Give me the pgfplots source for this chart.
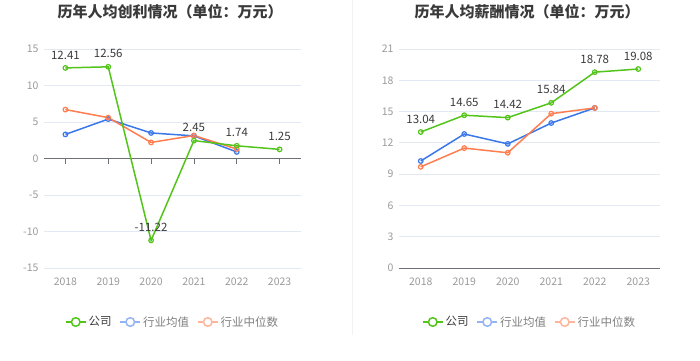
\documentclass[border=0pt]{standalone}
\usepackage{fontspec}
\setmainfont{Noto Sans CJK SC}
\usepackage{pgfplots}
\pgfplotsset{compat=1.18}
\definecolor{cgreen}{HTML}{52C41A}
\definecolor{cblue}{HTML}{3A77E8}
\definecolor{corange}{HTML}{FF7D4F}
\definecolor{lblue}{HTML}{92B4F4}
\definecolor{lorange}{HTML}{FFB59B}
\definecolor{gridc}{HTML}{E3E9F3}
\definecolor{axisc}{HTML}{6E7079}
\definecolor{tickc}{HTML}{9A9A9A}
\definecolor{titlec}{HTML}{3A3A3A}
\pgfplotsset{
  base/.style={
    scale only axis,
    xmin=-0.5, xmax=5.5,
    xtick={0,...,5},
    xticklabels={2018,2019,2020,2021,2022,2023},
    axis line style={draw=none},
    major tick style={draw=none},
    ymajorgrids,
    grid style={color=gridc, line width=0.8pt},
    tick label style={font=\fontsize{10.5}{12}\selectfont, text=tickc},
    /pgf/number format/assume math mode=true,
    xticklabel style={yshift=-6pt},
    yticklabel style={xshift=-2pt},
    legend style={at={(0.5,-0.2466)}, anchor=center, draw=none, fill=none,
      font=\fontsize{11.5}{13}\selectfont, text=titlec!65,
      /tikz/every even column/.append style={column sep=6pt}},
    legend columns=3,
    legend cell align=left,
  },
  ser/.style={line width=1.5pt, color=#1, mark=o, mark size=2.3pt,
    mark options={fill=white, line width=1.2pt}},
  lab/.style={nodes near coords={\pgfplotspointmeta}, point meta=explicit symbolic,
    every node near coord/.append style={anchor=center, yshift=13pt,
      font=\fontsize{11.5}{13}\selectfont, text=titlec}},
  limg/.style={legend image code/.code={
      \draw[#1, line width=1.5pt] (0pt,0pt) -- (20pt,0pt);
      \draw[#1, line width=1.5pt, fill=white] (10pt,0pt) circle (4.3pt);}},
}
\begin{document}
\begin{tikzpicture}
\path[use as bounding box] (0pt,0pt) rectangle (700pt,360pt);
\draw[color=black!5, line width=1pt] (352pt,25pt) -- (352pt,360pt);
\node[font=\bfseries\fontsize{15}{17}\selectfont, text=titlec] at (170pt,348pt) {历年人均创利情况（单位：万元）};
\node[font=\bfseries\fontsize{15}{17}\selectfont, text=titlec] at (527pt,348pt) {历年人均薪酬情况（单位：万元）};
\begin{axis}[base, at={(44pt,92pt)}, anchor=south west, width=257pt, height=219pt,
  ymin=-15, ymax=15, ytick={-15,-10,-5,0,5,10,15}]
\addlegendimage{limg=cgreen}
\addlegendentry{\textcolor{titlec}{公司}}
\addlegendimage{limg=lblue}
\addlegendentry{行业均值}
\addlegendimage{limg=lorange}
\addlegendentry{行业中位数}
\draw[color=axisc, line width=0.8pt] (axis cs:-0.5,0) -- (axis cs:5.5,0);
\pgfplotsinvokeforeach{0,...,5}{\draw[color=axisc, line width=0.8pt] (axis cs:#1,0) -- ++(0pt,-5pt);}
\addplot[ser=cblue, forget plot] coordinates {(0,3.3) (1,5.4) (2,3.5) (3,3.1) (4,0.9)};
\addplot[ser=corange, forget plot] coordinates {(0,6.7) (1,5.6) (2,2.2) (3,3.15) (4,1.3)};
\addplot[ser=cgreen, lab, forget plot] coordinates {(0,12.41)[12.41] (1,12.56)[12.56] (2,-11.22)[-11.22] (3,2.45)[2.45] (4,1.74)[1.74] (5,1.25)[1.25]};
\end{axis}
\begin{axis}[base, at={(399pt,92pt)}, anchor=south west, width=261pt, height=219pt,
  ymin=0, ymax=21, ytick={0,3,...,21}]
\addlegendimage{limg=cgreen}
\addlegendentry{\textcolor{titlec}{公司}}
\addlegendimage{limg=lblue}
\addlegendentry{行业均值}
\addlegendimage{limg=lorange}
\addlegendentry{行业中位数}
\draw[color=axisc, line width=0.8pt] (axis cs:-0.5,0) -- (axis cs:5.5,0);
\pgfplotsinvokeforeach{0,...,5}{\draw[color=axisc, line width=0.8pt] (axis cs:#1,0) -- ++(0pt,-5pt);}
\addplot[ser=cblue, forget plot] coordinates {(0,10.26) (1,12.85) (2,11.9) (3,13.9) (4,15.35)};
\addplot[ser=corange, forget plot] coordinates {(0,9.7) (1,11.5) (2,11.05) (3,14.8) (4,15.35)};
\addplot[ser=cgreen, lab, forget plot] coordinates {(0,13.04)[13.04] (1,14.65)[14.65] (2,14.42)[14.42] (3,15.84)[15.84] (4,18.78)[18.78] (5,19.08)[19.08]};
\end{axis}
\end{tikzpicture}
\end{document}
